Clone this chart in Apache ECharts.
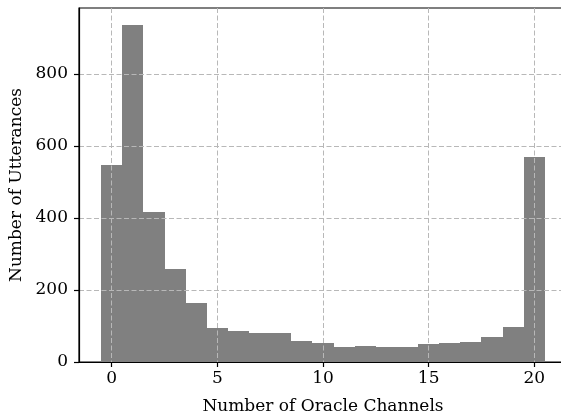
<!DOCTYPE html>
<html>
<head>
<meta charset="utf-8">
<script src="https://cdn.jsdelivr.net/npm/echarts@6/dist/echarts.min.js"></script>
<style>
  html, body { margin: 0; padding: 0; background: #fff; }
  #chart { width: 561px; height: 419px; }
</style>
</head>
<body>
<div id="chart"></div>
<script>
// Histogram of how many oracle channels each utterance uses (0..20)
const channels = [0, 1, 2, 3, 4, 5, 6, 7, 8, 9, 10, 11, 12, 13, 14, 15, 16, 17, 18, 19, 20];
const utterances = [546, 935, 416, 257, 163, 94, 87, 80, 80, 59, 52, 41, 44, 41, 41, 50, 53, 55, 69, 97, 569];
const xTicks = [0, 5, 10, 15, 20];
const yTicks = [0, 200, 400, 600, 800];

const font = 'DejaVu Serif';
const chart = echarts.init(document.getElementById('chart'), null, { renderer: 'canvas' });

const gridDash = { color: '#b8b8b8', width: 1, type: [5, 2.5] };

// Each histogram bin spans [c - 0.5, c + 0.5]; edges are snapped to whole
// pixels so neighbouring bins meet without anti-aliased seams.
function renderBin(params, api) {
  const c = api.value(0);
  const v = api.value(1);
  const topLeft = api.coord([c - 0.5, v]);
  const bottomRight = api.coord([c + 0.5, 0]);
  const x0 = Math.round(topLeft[0]);
  const x1 = Math.round(bottomRight[0]);
  const y0 = Math.round(topLeft[1]);
  const y1 = bottomRight[1];
  return {
    type: 'rect',
    shape: { x: x0, y: y0, width: x1 - x0, height: y1 - y0 },
    style: { fill: '#808080' }
  };
}

chart.setOption({
  animation: false,
  backgroundColor: '#ffffff',
  grid: {
    left: 79, top: 8, right: -6, bottom: 57,
    outerBoundsMode: 'none',
    containLabel: false,
    show: true, borderColor: '#000', borderWidth: 1.2, backgroundColor: 'transparent'
  },
  xAxis: {
    type: 'value',
    min: -1.55,
    max: 21.55,
    z: 5,
    name: 'Number of Oracle Channels',
    nameLocation: 'middle',
    nameGap: 36,
    nameTextStyle: { fontFamily: font, fontSize: 17, color: '#000' },
    axisLine: { show: true, onZero: false, lineStyle: { color: '#000', width: 1.2 } },
    axisTick: { show: true, inside: false, length: 5, customValues: xTicks, lineStyle: { color: '#000', width: 1.2 } },
    axisLabel: { customValues: xTicks, margin: 8, fontFamily: font, fontSize: 17, color: '#000' },
    splitLine: { show: true, lineStyle: gridDash }
  },
  yAxis: {
    type: 'value',
    min: 0,
    max: 983,
    z: 5,
    name: 'Number of Utterances',
    nameLocation: 'middle',
    nameGap: 53,
    nameRotate: 90,
    nameTextStyle: { fontFamily: font, fontSize: 17, color: '#000' },
    axisLine: { show: true, onZero: false, lineStyle: { color: '#000', width: 1.2 } },
    axisTick: { show: true, inside: false, length: 5, customValues: yTicks, lineStyle: { color: '#000', width: 1.2 } },
    axisLabel: { customValues: yTicks, margin: 11, fontFamily: font, fontSize: 17, color: '#000' },
    splitLine: { show: true, lineStyle: gridDash }
  },
  series: [{
    type: 'custom',
    z: 2,
    renderItem: renderBin,
    encode: { x: 0, y: 1 },
    data: channels.map((c, i) => [c, utterances[i]])
  }]
});
</script>
</body>
</html>
